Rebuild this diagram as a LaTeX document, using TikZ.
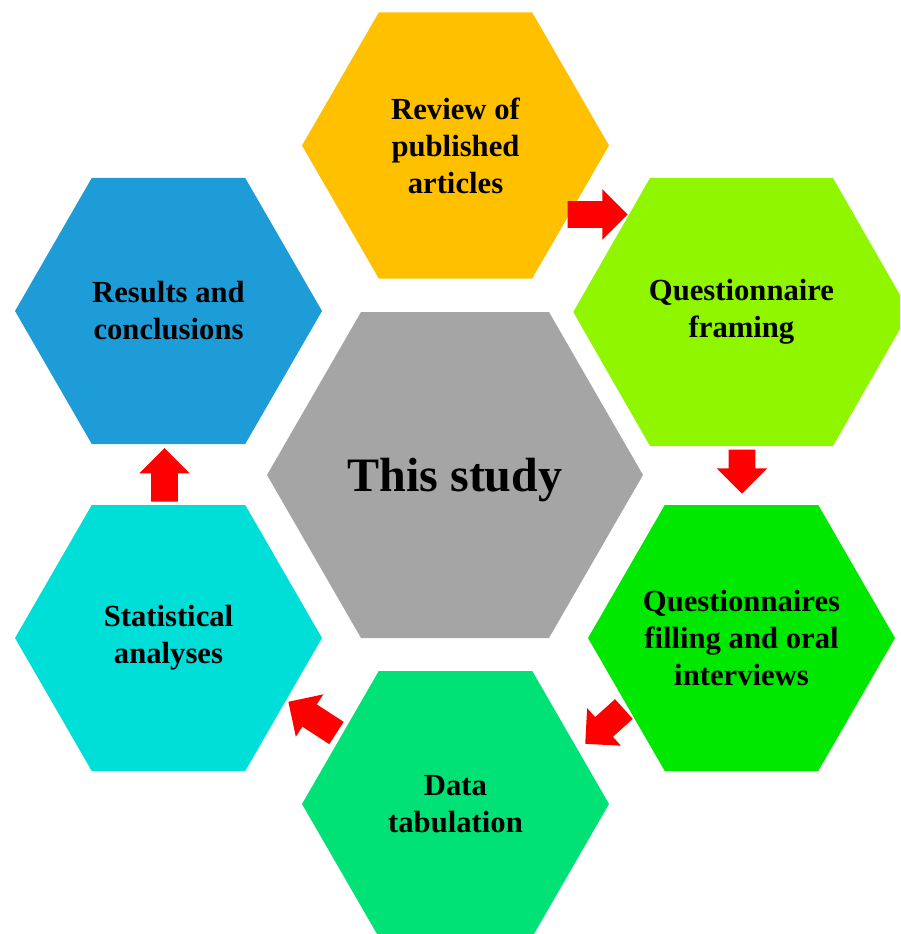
\documentclass[tikz,border=0pt]{standalone}
\usepackage{fontspec}
\setmainfont{Liberation Serif}
\usepackage{tikz}
\usetikzlibrary{shapes.arrows}
\definecolor{hxgold}{HTML}{FFC000}
\definecolor{hxlime}{HTML}{8FF600}
\definecolor{hxgreen}{HTML}{00E800}
\definecolor{hxmint}{HTML}{00E176}
\definecolor{hxcyan}{HTML}{00DED8}
\definecolor{hxblue}{HTML}{1E9CD7}
\definecolor{hxgrey}{HTML}{A5A5A5}
\definecolor{hxred}{HTML}{FF0000}

\begin{document}
\begin{tikzpicture}[x=0.75pt, y=-0.75pt,
    cell/.style={align=center, inner sep=0pt,
                 font=\fontsize{23}{27.75}\selectfont\bfseries},
    flow/.style={single arrow, fill=hxred, draw=none, inner xsep=0pt,
                 inner ysep=9.75pt, single arrow head extend=9pt},
]
    \useasboundingbox (0,0) rectangle (900,934);
    \clip (0,0) rectangle (900,934);

    % === hexagons: centre x / centre y / half top edge / slant / half height / fill ===
    \foreach \cx/\cy/\a/\s/\h/\col in {
        455.5/145.5/76.75/76.75/133/hxgold,
        741.5/312/91.5/76.75/134/hxlime,
        741.5/638/76.75/76.75/133/hxgreen,
        455.5/804/76.75/76.75/133/hxmint,
        168.5/638/76.75/76.75/133/hxcyan,
        168.5/311/76.75/76.75/133/hxblue,
        455/475/94/94/163/hxgrey}
        \fill[\col] (\cx-\a-\s, \cy) -- ++(\s,-\h) -- ++(2*\a,0)
            -- ++(\s,\h) -- ++(-\s,\h) -- ++(-2*\a,0) -- cycle;

    % === labels ===
    \node[cell] (review) at (455.5,145.5) {Review of\\published\\articles};
    \node[cell] (framing) at (741.5,312) {Questionnaire\\framing};
    \node[cell] (filling) at (741.5,638) {Questionnaires\\filling and oral\\interviews};
    \node[cell] (tabulation) at (455.5,804) {Data\\tabulation};
    \node[cell] (stats) at (168.5,638) {Statistical\\analyses};
    \node[cell] (results) at (168.5,311) {Results and\\conclusions};
    \node[font=\fontsize{36}{43}\selectfont\bfseries, inner sep=0pt] (study) at (455,480) {This study};

    % === block arrows round the cycle ===
    \node[flow, minimum height=45pt] (a1) at (591,214.5) {};
    \node[flow, minimum height=33pt, rotate=-90] (a2) at (742,465) {};
    \node[flow, minimum height=39pt, rotate=222] (a3) at (609.5,722) {};
    \node[flow, minimum height=43pt, rotate=147] (a4) at (318,721) {};
    \node[flow, minimum height=40pt, rotate=90] (a5) at (164.5,481.5) {};
\end{tikzpicture}
\end{document}
